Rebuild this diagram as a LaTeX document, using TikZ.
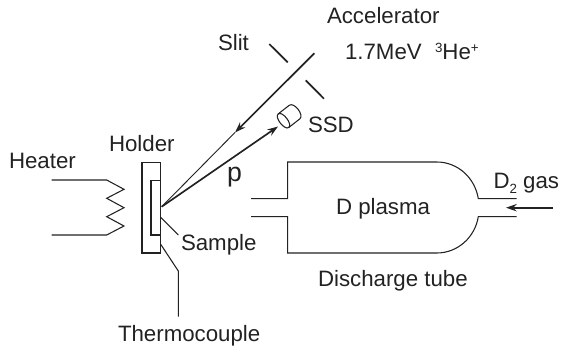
\documentclass[tikz,border=0pt]{standalone}
\usepackage{fontspec}
\setmainfont{Liberation Sans}
\usetikzlibrary{arrows.meta}
\definecolor{ink}{HTML}{222222}
\tikzset{
  lab/.style={anchor=base west,inner sep=0pt,outer sep=0pt,text=ink,font=\fontsize{16.7}{18}\selectfont},
  ln/.style={draw=ink,line width=0.8pt,line join=miter},
  thin ln/.style={draw=ink,line width=0.7pt},
  thick ln/.style={draw=ink,line width=1.25pt},
  tip/.style={-{Stealth[length=8pt,width=5.5pt]}}
}
\begin{document}
\begin{tikzpicture}[x=0.75pt,y=-0.75pt]
\useasboundingbox (0,0) rectangle (563,353);
% labels
\node[lab] (accel) at (327,23.3) {Accelerator};
\node[lab] (energy) at (345,59.3) {1.7MeV\hspace{10pt}{\fontsize{10}{12}\selectfont\raisebox{5pt}{3}}He{\fontsize{10}{12}\selectfont\raisebox{5pt}{+}}};
\node[lab] (slit) at (218,50.7) {Slit};
\node[lab] (holderlab) at (109,151) {Holder};
\node[lab] (heater) at (9,168.3) {Heater};
\node[lab] (ssd) at (308,132.7) {SSD};
\node[lab] (p) at (227,181) {\fontsize{20}{20}\selectfont p};
\node[lab] (samplelab) at (181,250.7) {Sample};
\node[lab] (tc) at (118,341.7) {Thermocouple};
\node[lab] (plasma) at (336,214) {D plasma};
\node[lab] (dtube) at (318,286.7) {Discharge tube};
\node[lab] (gas) at (493.5,188.3) {D\raisebox{-3.8pt}{\fontsize{10}{12}\selectfont 2} gas};
% holder and sample
\node[ln,draw,inner sep=0pt,minimum width=14pt,minimum height=68.2pt] (holder) at (151.3,207.5) {};
\node[ln,draw,inner sep=0pt,minimum width=7.2pt,minimum height=41.2pt] (sample) at (155.8,207.5) {};
% heater
\draw[ln] (51.7,180) -- (106.7,180) -- (124,189.3) -- (106.7,198.3) -- (124,207.7) -- (106.7,216.7) -- (124,226) -- (106.7,235) -- (51.7,235);
% leaders
\coordinate (hit) at (161.7,206.7);
\draw[ln] (160.7,217.3) -- (178.3,235);
\draw[ln] (160.7,244.3) -- (178.3,271) -- (178.3,316.7);
% slit
\draw[thick ln] (269.3,44) -- (287.7,62.3);
\draw[thick ln] (305.7,80.3) -- (324,98.7);
% beam
\coordinate (beamstart) at (314.3,53.3);
\coordinate (beamtip) at (235,132.5);
\draw[thin ln] (beamtip) -- (hit);
\draw[thick ln,tip] (beamstart) -- (beamtip);
% proton
\coordinate (det) at (278,126.5);
\draw[thick ln,tip] (hit) -- (det);
% SSD
\begin{scope}[shift={(283.5,120.7)},rotate=38]
\draw[ln] (0,8.6) -- (14,8.6) .. controls (20,8.6) and (20,-8.6) .. (14,-8.6) -- (0,-8.6);
\draw[ln] (0,8.6) .. controls (5.3,8.6) and (5.3,-8.6) .. (0,-8.6) .. controls (-5.3,-8.6) and (-5.3,8.6) .. (0,8.6);
\end{scope}
% tube
\coordinate (tl) at (287.7,162);
\coordinate (bl) at (287.7,253);
\draw[ln] (251,198.7) -- (287.7,198.7) -- (tl) -- (436.7,162) .. controls (458,162) and (475,178) .. (478.3,198.7) -- (516.7,198.7);
\draw[ln] (251,216.7) -- (287.7,216.7) -- (bl) -- (436.7,253) .. controls (458,253) and (475,237) .. (478.3,216.7) -- (516.7,216.7);
\coordinate (gasin) at (553,207.7);
\coordinate (gasout) at (506,207.7);
\draw[thick ln,tip] (gasin) -- (gasout);
\end{tikzpicture}
\end{document}
